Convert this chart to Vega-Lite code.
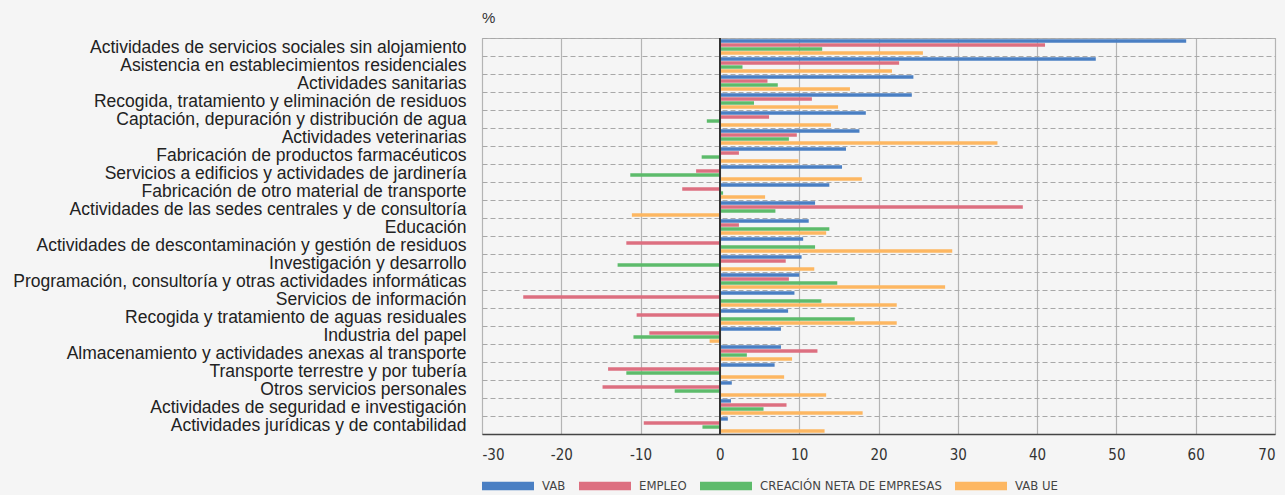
{
  "$schema": "https://vega.github.io/schema/vega-lite/v6.json",
  "autosize": "none",
  "width": 793,
  "height": 396,
  "padding": {"left": 482, "top": 38, "right": 10, "bottom": 61},
  "background": "#f5f5f5",
  "config": {
    "view": {"stroke": "#b0b0b0", "strokeWidth": 1},
    "font": "Liberation Sans"
  },
  "title": {"text": "%", "anchor": "start", "frame": "group", "fontSize": 15, "fontWeight": "normal", "color": "#333", "offset": 3, "font": "Liberation Sans"},
  "data": {"values": [
    {"cat": "Actividades de servicios sociales sin alojamiento", "serie": "VAB", "v": 58.8},
    {"cat": "Actividades de servicios sociales sin alojamiento", "serie": "EMPLEO", "v": 41.0},
    {"cat": "Actividades de servicios sociales sin alojamiento", "serie": "CREACIÓN NETA DE EMPRESAS", "v": 12.9},
    {"cat": "Actividades de servicios sociales sin alojamiento", "serie": "VAB UE", "v": 25.6},
    {"cat": "Asistencia en establecimientos residenciales", "serie": "VAB", "v": 47.4},
    {"cat": "Asistencia en establecimientos residenciales", "serie": "EMPLEO", "v": 22.6},
    {"cat": "Asistencia en establecimientos residenciales", "serie": "CREACIÓN NETA DE EMPRESAS", "v": 2.85},
    {"cat": "Asistencia en establecimientos residenciales", "serie": "VAB UE", "v": 21.7},
    {"cat": "Actividades sanitarias", "serie": "VAB", "v": 24.4},
    {"cat": "Actividades sanitarias", "serie": "EMPLEO", "v": 6.0},
    {"cat": "Actividades sanitarias", "serie": "CREACIÓN NETA DE EMPRESAS", "v": 7.3},
    {"cat": "Actividades sanitarias", "serie": "VAB UE", "v": 16.4},
    {"cat": "Recogida, tratamiento y eliminación de residuos", "serie": "VAB", "v": 24.2},
    {"cat": "Recogida, tratamiento y eliminación de residuos", "serie": "EMPLEO", "v": 11.6},
    {"cat": "Recogida, tratamiento y eliminación de residuos", "serie": "CREACIÓN NETA DE EMPRESAS", "v": 4.3},
    {"cat": "Recogida, tratamiento y eliminación de residuos", "serie": "VAB UE", "v": 14.9},
    {"cat": "Captación, depuración y distribución de agua", "serie": "VAB", "v": 18.4},
    {"cat": "Captación, depuración y distribución de agua", "serie": "EMPLEO", "v": 6.2},
    {"cat": "Captación, depuración y distribución de agua", "serie": "CREACIÓN NETA DE EMPRESAS", "v": -1.65},
    {"cat": "Captación, depuración y distribución de agua", "serie": "VAB UE", "v": 14.0},
    {"cat": "Actividades veterinarias", "serie": "VAB", "v": 17.6},
    {"cat": "Actividades veterinarias", "serie": "EMPLEO", "v": 9.7},
    {"cat": "Actividades veterinarias", "serie": "CREACIÓN NETA DE EMPRESAS", "v": 8.7},
    {"cat": "Actividades veterinarias", "serie": "VAB UE", "v": 35.0},
    {"cat": "Fabricación de productos farmacéuticos", "serie": "VAB", "v": 15.9},
    {"cat": "Fabricación de productos farmacéuticos", "serie": "EMPLEO", "v": 2.4},
    {"cat": "Fabricación de productos farmacéuticos", "serie": "CREACIÓN NETA DE EMPRESAS", "v": -2.3},
    {"cat": "Fabricación de productos farmacéuticos", "serie": "VAB UE", "v": 9.9},
    {"cat": "Servicios a edificios y actividades de jardinería", "serie": "VAB", "v": 15.4},
    {"cat": "Servicios a edificios y actividades de jardinería", "serie": "EMPLEO", "v": -3.0},
    {"cat": "Servicios a edificios y actividades de jardinería", "serie": "CREACIÓN NETA DE EMPRESAS", "v": -11.3},
    {"cat": "Servicios a edificios y actividades de jardinería", "serie": "VAB UE", "v": 17.9},
    {"cat": "Fabricación de otro material de transporte", "serie": "VAB", "v": 13.8},
    {"cat": "Fabricación de otro material de transporte", "serie": "EMPLEO", "v": -4.75},
    {"cat": "Fabricación de otro material de transporte", "serie": "CREACIÓN NETA DE EMPRESAS", "v": 0.4},
    {"cat": "Fabricación de otro material de transporte", "serie": "VAB UE", "v": 5.7},
    {"cat": "Actividades de las sedes centrales y de consultoría", "serie": "VAB", "v": 12.0},
    {"cat": "Actividades de las sedes centrales y de consultoría", "serie": "EMPLEO", "v": 38.2},
    {"cat": "Actividades de las sedes centrales y de consultoría", "serie": "CREACIÓN NETA DE EMPRESAS", "v": 7.0},
    {"cat": "Actividades de las sedes centrales y de consultoría", "serie": "VAB UE", "v": -11.1},
    {"cat": "Educación", "serie": "VAB", "v": 11.2},
    {"cat": "Educación", "serie": "EMPLEO", "v": 2.4},
    {"cat": "Educación", "serie": "CREACIÓN NETA DE EMPRESAS", "v": 13.8},
    {"cat": "Educación", "serie": "VAB UE", "v": 13.4},
    {"cat": "Actividades de descontaminación y gestión de residuos", "serie": "VAB", "v": 10.5},
    {"cat": "Actividades de descontaminación y gestión de residuos", "serie": "EMPLEO", "v": -11.8},
    {"cat": "Actividades de descontaminación y gestión de residuos", "serie": "CREACIÓN NETA DE EMPRESAS", "v": 12.0},
    {"cat": "Actividades de descontaminación y gestión de residuos", "serie": "VAB UE", "v": 29.3},
    {"cat": "Investigación y desarrollo", "serie": "VAB", "v": 10.3},
    {"cat": "Investigación y desarrollo", "serie": "EMPLEO", "v": 8.3},
    {"cat": "Investigación y desarrollo", "serie": "CREACIÓN NETA DE EMPRESAS", "v": -12.9},
    {"cat": "Investigación y desarrollo", "serie": "VAB UE", "v": 11.9},
    {"cat": "Programación, consultoría y otras actividades informáticas", "serie": "VAB", "v": 10.0},
    {"cat": "Programación, consultoría y otras actividades informáticas", "serie": "EMPLEO", "v": 8.7},
    {"cat": "Programación, consultoría y otras actividades informáticas", "serie": "CREACIÓN NETA DE EMPRESAS", "v": 14.8},
    {"cat": "Programación, consultoría y otras actividades informáticas", "serie": "VAB UE", "v": 28.4},
    {"cat": "Servicios de información", "serie": "VAB", "v": 9.4},
    {"cat": "Servicios de información", "serie": "EMPLEO", "v": -24.8},
    {"cat": "Servicios de información", "serie": "CREACIÓN NETA DE EMPRESAS", "v": 12.8},
    {"cat": "Servicios de información", "serie": "VAB UE", "v": 22.3},
    {"cat": "Recogida y tratamiento de aguas residuales", "serie": "VAB", "v": 8.6},
    {"cat": "Recogida y tratamiento de aguas residuales", "serie": "EMPLEO", "v": -10.5},
    {"cat": "Recogida y tratamiento de aguas residuales", "serie": "CREACIÓN NETA DE EMPRESAS", "v": 17.0},
    {"cat": "Recogida y tratamiento de aguas residuales", "serie": "VAB UE", "v": 22.3},
    {"cat": "Industria del papel", "serie": "VAB", "v": 7.7},
    {"cat": "Industria del papel", "serie": "EMPLEO", "v": -8.9},
    {"cat": "Industria del papel", "serie": "CREACIÓN NETA DE EMPRESAS", "v": -10.9},
    {"cat": "Industria del papel", "serie": "VAB UE", "v": -1.3},
    {"cat": "Almacenamiento y actividades anexas al transporte", "serie": "VAB", "v": 7.7},
    {"cat": "Almacenamiento y actividades anexas al transporte", "serie": "EMPLEO", "v": 12.3},
    {"cat": "Almacenamiento y actividades anexas al transporte", "serie": "CREACIÓN NETA DE EMPRESAS", "v": 3.4},
    {"cat": "Almacenamiento y actividades anexas al transporte", "serie": "VAB UE", "v": 9.1},
    {"cat": "Transporte terrestre y por tubería", "serie": "VAB", "v": 6.9},
    {"cat": "Transporte terrestre y por tubería", "serie": "EMPLEO", "v": -14.1},
    {"cat": "Transporte terrestre y por tubería", "serie": "CREACIÓN NETA DE EMPRESAS", "v": -11.8},
    {"cat": "Transporte terrestre y por tubería", "serie": "VAB UE", "v": 8.1},
    {"cat": "Otros servicios personales", "serie": "VAB", "v": 1.5},
    {"cat": "Otros servicios personales", "serie": "EMPLEO", "v": -14.8},
    {"cat": "Otros servicios personales", "serie": "CREACIÓN NETA DE EMPRESAS", "v": -5.7},
    {"cat": "Otros servicios personales", "serie": "VAB UE", "v": 13.4},
    {"cat": "Actividades de seguridad e investigación", "serie": "VAB", "v": 1.4},
    {"cat": "Actividades de seguridad e investigación", "serie": "EMPLEO", "v": 8.4},
    {"cat": "Actividades de seguridad e investigación", "serie": "CREACIÓN NETA DE EMPRESAS", "v": 5.5},
    {"cat": "Actividades de seguridad e investigación", "serie": "VAB UE", "v": 18.0},
    {"cat": "Actividades jurídicas y de contabilidad", "serie": "VAB", "v": 1.0},
    {"cat": "Actividades jurídicas y de contabilidad", "serie": "EMPLEO", "v": -9.6},
    {"cat": "Actividades jurídicas y de contabilidad", "serie": "CREACIÓN NETA DE EMPRESAS", "v": -2.2},
    {"cat": "Actividades jurídicas y de contabilidad", "serie": "VAB UE", "v": 13.2}
  ]},
  "layer": [
    {
      "mark": {"type": "bar", "orient": "horizontal"},
      "encoding": {
        "y": {
          "field": "cat", "type": "nominal", "sort": null,
          "scale": {"paddingInner": 0, "paddingOuter": 0},
          "axis": {
            "title": null, "ticks": false, "domain": false,
            "labelFontSize": 17.5, "labelColor": "#222", "labelPadding": 16,
            "labelLimit": 600, "grid": true, "tickBand": "extent",
            "gridDash": [5, 3], "gridColor": "#a8a8a8", "gridWidth": 1.2
          }
        },
        "yOffset": {
          "field": "serie", "type": "nominal",
          "sort": ["VAB", "EMPLEO", "CREACIÓN NETA DE EMPRESAS", "VAB UE"],
          "scale": {"paddingInner": 0.15, "paddingOuter": 0.3}
        },
        "x": {
          "field": "v", "type": "quantitative",
          "scale": {"domain": [-30, 70], "nice": false, "zero": false},
          "axis": {
            "title": null, "values": [-30, -20, -10, 0, 10, 20, 30, 40, 50, 60, 70],
            "labelExpr": "datum.value < 0 ? '-' + abs(datum.value) : '' + datum.value",
            "labelFont": "'DejaVu Sans Condensed', Roboto, sans-serif",
            "labelFontSize": 15, "labelColor": "#333", "labelPadding": 13,
            "ticks": false, "domainColor": "#444", "domainWidth": 1.5,
            "gridColor": "#b4b4b4", "gridWidth": 1.2
          }
        },
        "color": {
          "field": "serie", "type": "nominal",
          "scale": {
            "domain": ["VAB", "EMPLEO", "CREACIÓN NETA DE EMPRESAS", "VAB UE"],
            "range": ["#4a7fc3", "#dd6f80", "#5dbb6b", "#fdb762"]
          },
          "legend": {
            "title": null, "orient": "none", "direction": "horizontal",
            "legendX": 0, "legendY": 422,
            "symbolType": "M-1,-0.16H1V0.16H-1Z", "symbolSize": 2704,
            "symbolStrokeWidth": 0, "labelFont": "'DejaVu Sans Condensed', Roboto, sans-serif",
            "labelFontSize": 13, "labelColor": "#444", "labelOffset": 8,
            "labelLimit": 400, "columnPadding": 13, "symbolOpacity": 1
          }
        }
      }
    },
    {
      "mark": {"type": "rule", "color": "#333", "strokeWidth": 1.5},
      "encoding": {"x": {"datum": 0}}
    }
  ]
}
